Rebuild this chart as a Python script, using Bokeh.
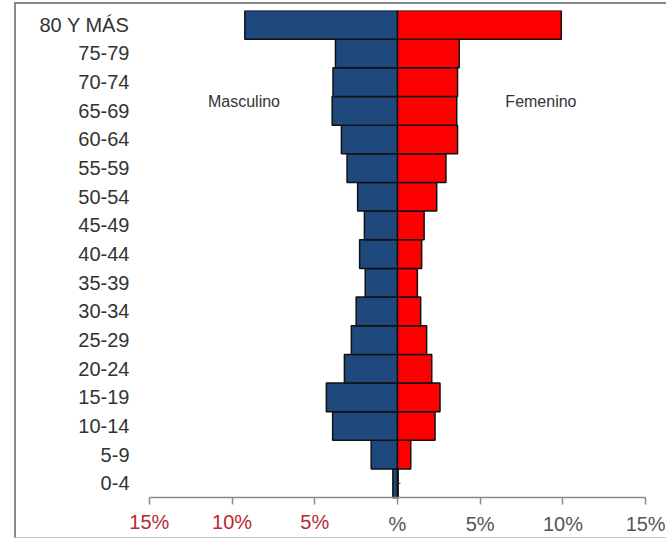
from bokeh.plotting import figure
from bokeh.models import (ColumnDataSource, Range1d, Label, LabelSet, FixedTicker, LinearAxis)
from bokeh.core.properties import value
from bokeh.embed import file_html
from bokeh.resources import INLINE

# ---- data ----
age_groups = ["0-4", "5-9", "10-14", "15-19", "20-24", "25-29", "30-34", "35-39",
              "40-44", "45-49", "50-54", "55-59", "60-64", "65-69", "70-74",
              "75-79", "80 Y MÁS"]
masculino = [0.28, 1.59, 3.92, 4.3, 3.21, 2.79, 2.5, 1.95,
             2.29, 2.0, 2.41, 3.05, 3.39, 3.95, 3.9, 3.75, 9.23]
femenino = [0.04, 0.8, 2.27, 2.57, 2.07, 1.76, 1.4, 1.2,
            1.46, 1.61, 2.37, 2.93, 3.63, 3.58, 3.63, 3.73, 9.9]
tick_values = [-15, -10, -5, 0, 5, 10, 15]
tick_labels = ["15%", "10%", "5%", "%", "5%", "10%", "15%"]
series_names = ["Masculino", "Femenino"]

FONT = "Liberation Sans"

n = len(age_groups)
ypos = [i + 0.5 for i in range(n)]

src = ColumnDataSource(dict(
    y=ypos,
    male_left=[-v for v in masculino],
    female_right=femenino,
))

# the frame is extended below 0 and beyond +-15 so the tick labels stay inside it
p = figure(
    y_range=Range1d(-1.25, n),
    x_range=Range1d(-16.2, 16.2),
    x_axis_location=None,
    frame_width=536, frame_height=523,
    min_border_left=113, min_border_right=1,
    min_border_top=6, min_border_bottom=4,
    output_backend="svg", toolbar_location=None,
    background_fill_color="white", border_fill_color="white",
)
p.styles = {"margin-left": "14px", "margin-top": "2px",
            "border-left": "2px solid #8a8a8a", "border-top": "2px solid #8a8a8a",
            "border-bottom": "1px solid #c8c8c8"}

p.hbar(y="y", left="male_left", right=0, height=1.0, source=src,
       fill_color="#1F497D", line_color="#111111", line_width=1.5)
p.hbar(y="y", left=0, right="female_right", height=1.0, source=src,
       fill_color="#FF0000", line_color="#111111", line_width=1.5)

# small ticks on the central axis
p.ray(x=0, y=ypos, length=3, length_units="screen", angle=0,
      line_color="#333333", line_width=1)

p.grid.visible = False
p.outline_line_color = None

# y axis (category labels)
ya = p.yaxis[0]
ya.ticker = FixedTicker(ticks=ypos)
ya.major_label_overrides = {y: lab for y, lab in zip(ypos, age_groups)}
ya.axis_line_color = None
ya.major_tick_line_color = None
ya.minor_tick_line_color = None
ya.major_tick_out = 0
ya.major_tick_in = 0
ya.major_label_standoff = 0
ya.major_label_text_font = FONT
ya.major_label_text_font_size = "20px"
ya.major_label_text_color = "#333333"

# x axis at y = 0: grey labels for the right side
xa = LinearAxis(fixed_location=0, bounds=(tick_values[0], tick_values[-1]))
xa.ticker = FixedTicker(ticks=tick_values)
xa.major_label_overrides = {v: (lab if v >= 0 else "") for v, lab in zip(tick_values, tick_labels)}
xa.axis_line_color = "#8a8a8a"
xa.axis_line_width = 1.5
xa.major_tick_line_color = "#8a8a8a"
xa.major_tick_line_width = 1.5
xa.major_tick_in = 0
xa.major_tick_out = 7
xa.minor_tick_line_color = None
xa.major_label_standoff = 8
xa.major_label_text_font = FONT
xa.major_label_text_font_size = "20px"
xa.major_label_text_color = "#555555"
p.add_layout(xa, "below")

# red labels for the left (male) side
neg = [(v, lab) for v, lab in zip(tick_values, tick_labels) if v < 0]
neg_src = ColumnDataSource(dict(x=[v for v, _ in neg], text=[lab for _, lab in neg]))
p.add_layout(LabelSet(x="x", y=-0.84, text="text", source=neg_src,
                      text_align="center", text_baseline="middle",
                      text_font=value(FONT), text_font_size=value("20px"),
                      text_color=value("#B8292F")))

# series labels
p.add_layout(Label(x=-9.28, y=13.82, text=series_names[0],
                   text_align="center", text_baseline="middle",
                   text_font=FONT, text_font_size="16px", text_color="#333333"))
p.add_layout(Label(x=8.67, y=13.82, text=series_names[1],
                   text_align="center", text_baseline="middle",
                   text_font=FONT, text_font_size="16px", text_color="#333333"))

open("out.html", "w").write(file_html(p, INLINE))
